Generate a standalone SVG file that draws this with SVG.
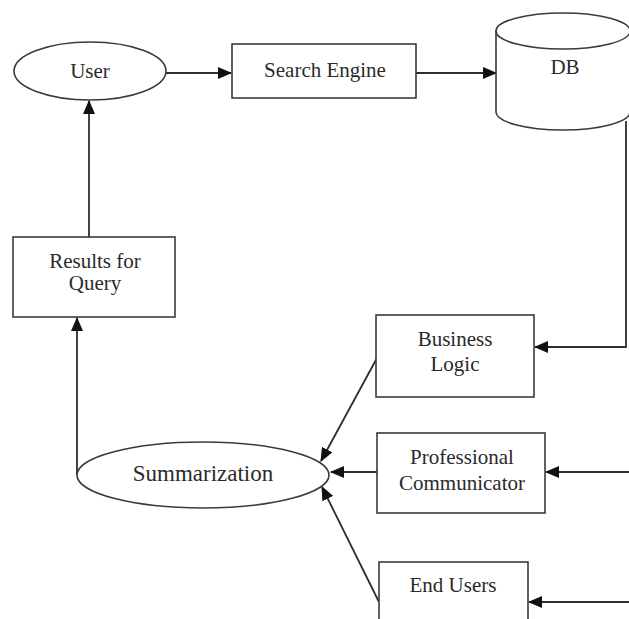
<svg xmlns="http://www.w3.org/2000/svg" width="629" height="619" viewBox="0 0 629 619">
  <style>
    .shape { fill: #ffffff; stroke: #3a3a3a; stroke-width: 1.6; }
    .edge { fill: none; stroke: #2e2e2e; stroke-width: 1.8; }
    .label { font-family: "Liberation Serif", "Times New Roman", serif; font-size: 21px; fill: #2a2a2a; text-anchor: middle; }
  </style>
  <defs>
    <marker id="arrow" markerUnits="userSpaceOnUse" markerWidth="14" markerHeight="12" refX="13" refY="6" orient="auto">
      <path d="M0,0 L14,6 L0,12 z" fill="#111111"/>
    </marker>
  </defs>
  <rect width="629" height="619" fill="#ffffff"/>

  <g id="connectors">
    <line class="edge" x1="166" y1="73" x2="231" y2="73" marker-end="url(#arrow)"/>
    <line class="edge" x1="416" y1="73" x2="496" y2="73" marker-end="url(#arrow)"/>
    <line class="edge" x1="89" y1="237" x2="89" y2="101" marker-end="url(#arrow)"/>
    <line class="edge" x1="77" y1="475" x2="77" y2="318" marker-end="url(#arrow)"/>
    <polyline class="edge" points="626,121 626,347 535,347" marker-end="url(#arrow)"/>
    <line class="edge" x1="629" y1="472" x2="546" y2="472" marker-end="url(#arrow)"/>
    <line class="edge" x1="629" y1="602" x2="529" y2="602" marker-end="url(#arrow)"/>
    <line class="edge" x1="377" y1="358" x2="321" y2="461" marker-end="url(#arrow)"/>
    <line class="edge" x1="377" y1="472" x2="331" y2="472" marker-end="url(#arrow)"/>
    <line class="edge" x1="379" y1="602" x2="322" y2="487" marker-end="url(#arrow)"/>
  </g>

  <g id="user">
    <ellipse class="shape" cx="90" cy="71" rx="76" ry="29"/>
    <text class="label" x="90" y="78">User</text>
  </g>

  <g id="search-engine">
    <rect class="shape" x="232" y="44" width="184" height="54"/>
    <text class="label" x="325" y="77">Search Engine</text>
  </g>

  <g id="db">
    <path class="shape" d="M496,31 L496,112 A67,18 0 0 0 630,112 L630,31"/>
    <ellipse class="shape" cx="563" cy="31" rx="67" ry="18"/>
    <text class="label" x="565" y="74">DB</text>
  </g>

  <g id="results-for-query">
    <rect class="shape" x="13" y="237" width="162" height="80"/>
    <text class="label" x="95" y="268">Results for</text>
    <text class="label" x="95" y="290">Query</text>
  </g>

  <g id="business-logic">
    <rect class="shape" x="376" y="315" width="158" height="82"/>
    <text class="label" x="455" y="346">Business</text>
    <text class="label" x="455" y="371">Logic</text>
  </g>

  <g id="professional-communicator">
    <rect class="shape" x="377" y="433" width="168" height="80"/>
    <text class="label" x="462" y="464">Professional</text>
    <text class="label" x="462" y="490">Communicator</text>
  </g>

  <g id="end-users">
    <rect class="shape" x="379" y="562" width="149" height="70"/>
    <text class="label" x="453" y="592">End Users</text>
  </g>

  <g id="summarization">
    <ellipse class="shape" cx="203" cy="475" rx="126" ry="33"/>
    <text class="label" x="203" y="481" style="font-size:23px">Summarization</text>
  </g>
</svg>
